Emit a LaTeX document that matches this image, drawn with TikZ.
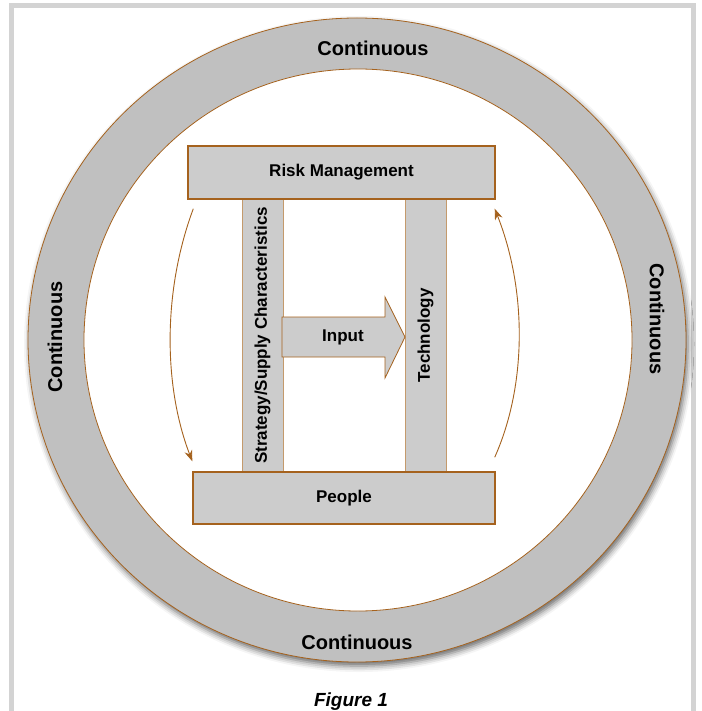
\documentclass[tikz,border=0pt]{standalone}
\usepackage{fontspec}
\setmainfont{Liberation Sans}
\usetikzlibrary{arrows.meta,shadows.blur}

\definecolor{ringgray}{HTML}{C0C0C0}
\definecolor{boxgray}{HTML}{CCCCCC}
\definecolor{edgebrown}{HTML}{A5621E}
\definecolor{barbrown}{HTML}{C49A6C}
\definecolor{framegray}{HTML}{D3D3D3}

\begin{document}
\begin{tikzpicture}[x=1pt,y=-1pt,
    plank/.style={draw=edgebrown, line width=1.4pt, fill=boxgray, inner sep=0pt, font=\bfseries\fontsize{17}{19}\selectfont},
    pillar/.style={draw=barbrown, line width=0.9pt, fill=boxgray, inner sep=0pt, rotate=90, font=\bfseries\fontsize{17}{19}\selectfont},
    ringlbl/.style={font=\bfseries\fontsize{20}{22}\selectfont},
    cyc/.style={draw=edgebrown, line width=0.9pt, -{Stealth[length=11pt,width=8pt]}}]
    \useasboundingbox (0,0) rectangle (701,711);
    % frame
    \draw[framegray, line width=5pt] (11.5,730) -- (11.5,6) -- (693,6) -- (693,730);
    % ring
    \fill[ringgray, blur shadow={shadow xshift=2pt, shadow yshift=-4pt, shadow blur radius=6pt, shadow opacity=60}]
        (357,340) ellipse [x radius=329, y radius=322];
    \draw[edgebrown, line width=0.8pt] (357,340) ellipse [x radius=329, y radius=322];
    \filldraw[fill=white, draw=edgebrown, line width=0.8pt] (358,340) ellipse [x radius=274, y radius=271];
    \node[ringlbl] (ctop) at (373,48) {Continuous};
    \node[ringlbl] (cbot) at (357,642) {Continuous};
    \node[ringlbl, rotate=90] (cleft) at (55,337) {Continuous};
    \node[ringlbl, rotate=-90] (cright) at (657,319) {Continuous};
    % pillars and planks
    \node[pillar, minimum width=273pt, minimum height=41pt] (strat) at (262.5,335.5) {Strategy/Supply Characteristics};
    \node[pillar, minimum width=273pt, minimum height=41pt] (tech) at (425.5,335.5) {Technology};
    \node[plank, minimum width=307pt, minimum height=53pt] (risk) at (341.5,172.5) {Risk Management};
    \node[plank, minimum width=302pt, minimum height=52pt] (people) at (344,498) {People};
    % input arrow
    \filldraw[fill=boxgray, draw=edgebrown, line width=0.8pt]
        (282,317) -- (385,317) -- (385,297) -- (405,337) -- (385,378) -- (385,357) -- (282,357) -- cycle;
    \node[font=\bfseries\fontsize{17}{19}\selectfont] (input) at (343,337) {Input};
    % cycle arrows
    \coordinate (dnA) at ([shift={(6,9)}]risk.south west);
    \coordinate (dnB) at ([shift={(0,-10)}]people.north west);
    \coordinate (upA) at ([shift={(-1,-14)}]people.north east);
    \coordinate (upB) at ([shift={(-1,9)}]risk.south east);
    \draw[cyc] (dnA) .. controls (163,290) and (163,385) .. (dnB);
    \draw[cyc] (upA) .. controls (527,385) and (527,290) .. (upB);
    \node[font=\bfseries\itshape\fontsize{19}{21}\selectfont] (fig) at (351,702) {Figure 1};
\end{tikzpicture}
\end{document}
